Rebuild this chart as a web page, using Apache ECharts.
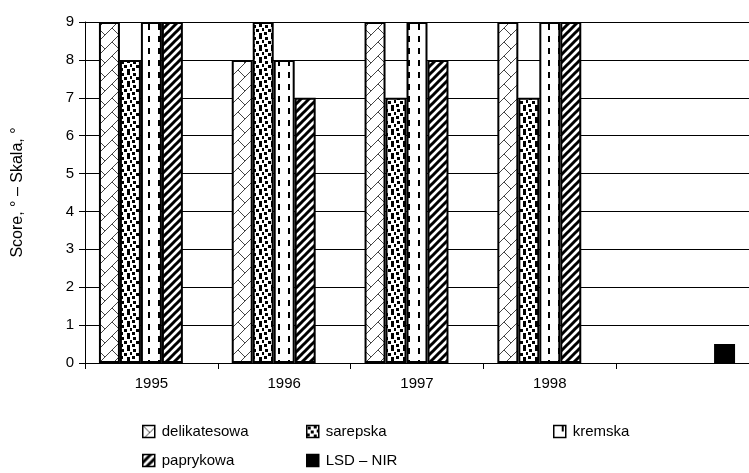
<!DOCTYPE html>
<html>
<head>
<meta charset="utf-8">
<script src="https://cdn.jsdelivr.net/npm/echarts@6/dist/echarts.min.js"></script>
<style>
  html, body { margin: 0; padding: 0; background: #fff; }
  #chart { width: 749px; height: 473px; }
</style>
</head>
<body>
<div id="chart"></div>
<script>
// Years of the trial; the empty last slot holds the LSD bar
const categories = ['1995', '1996', '1997', '1998', ''];
const delikatesowa = [9, 8, 9, 9, null];
const sarepska = [8, 9, 7, 7, null];
const kremska = [9, 8, 9, 9, null];
const paprykowa = [9, 7, 8, 9, null];
const lsdNir = [null, null, null, null, 0.5];
const yTicks = [0, 1, 2, 3, 4, 5, 6, 7, 8, 9];

const FONT = 'Liberation Sans, Arial, sans-serif';

// Small repeating tiles used as hatch fills
function tile(w, h, draw) {
  const c = document.createElement('canvas');
  c.width = w; c.height = h;
  const g = c.getContext('2d');
  g.fillStyle = '#fff';
  g.fillRect(0, 0, w, h);
  draw(g, w, h);
  return { image: c, repeat: 'repeat' };
}

// diagonal brick
const brickFill = tile(14, 14, (g) => {
  g.strokeStyle = '#444';
  g.lineWidth = 1;
  g.beginPath();
  g.moveTo(0, 14); g.lineTo(14, 0);
  g.moveTo(0, 0); g.lineTo(7, 7);
  g.stroke();
});

// large confetti
const confettiFill = tile(12, 12, (g) => {
  g.fillStyle = '#000';
  [[1, 1], [7, 0], [4, 5], [10, 4], [0, 8], [7, 9]].forEach(([x, y]) => g.fillRect(x, y, 3, 3));
});

// dashed vertical
const dashFill = tile(10, 12, (g) => {
  g.fillStyle = '#000';
  g.fillRect(8, 0, 2, 6);
});

// wide upward diagonal
const stripeFill = tile(8, 8, (g) => {
  g.strokeStyle = '#000';
  g.lineWidth = 3;
  g.beginPath();
  g.moveTo(-1, 9); g.lineTo(9, -1);
  g.moveTo(-5, 5); g.lineTo(5, -5);
  g.moveTo(3, 13); g.lineTo(13, 3);
  g.stroke();
});

function barSeries(name, data, fill) {
  return {
    name: name,
    type: 'bar',
    data: data,
    barGap: '0%',
    barCategoryGap: '21%',
    itemStyle: { color: fill, borderColor: '#000', borderWidth: 2 },
    emphasis: { disabled: true }
  };
}

function legendAt(name, left, top) {
  return {
    data: [name],
    left: left,
    top: top,
    icon: 'rect',
    itemWidth: 12,
    itemHeight: 12,
    itemGap: 0,
    padding: 0,
    selectedMode: false,
    itemStyle: { borderWidth: 1.5 },
    textStyle: { fontFamily: FONT, fontSize: 15, color: '#000', padding: [0, 0, 0, 2] }
  };
}

const chart = echarts.init(document.getElementById('chart'), null, { renderer: 'canvas' });
chart.setOption({
  animation: false,
  backgroundColor: '#fff',
  grid: { left: 85, right: 0, top: 22, bottom: 110, containLabel: false },
  xAxis: {
    type: 'category',
    data: categories,
    axisLine: { lineStyle: { color: '#000', width: 1 } },
    axisTick: { show: true, interval: 0, length: 6, lineStyle: { color: '#000' } },
    axisLabel: { interval: 0, margin: 13, fontFamily: FONT, fontSize: 15, color: '#000' }
  },
  yAxis: {
    type: 'value',
    min: yTicks[0],
    max: yTicks[yTicks.length - 1],
    interval: 1,
    name: 'Score, ° – Skala, °',
    nameLocation: 'middle',
    nameRotate: 90,
    nameGap: 59,
    nameTextStyle: { fontFamily: FONT, fontSize: 16, color: '#000' },
    axisLine: { show: true, lineStyle: { color: '#000', width: 1 } },
    axisTick: { show: true, length: 6, lineStyle: { color: '#000' } },
    axisLabel: { margin: 11, fontFamily: FONT, fontSize: 15, color: '#000' },
    splitLine: { show: true, lineStyle: { color: '#000', width: 1 } }
  },
  legend: [
    legendAt('delikatesowa', 142, 424),
    legendAt('sarepska', 306, 424),
    legendAt('kremska', 553, 424),
    legendAt('paprykowa', 142, 453),
    legendAt('LSD – NIR', 306, 453)
  ],
  series: [
    barSeries('delikatesowa', delikatesowa, brickFill),
    barSeries('sarepska', sarepska, confettiFill),
    barSeries('kremska', kremska, dashFill),
    barSeries('paprykowa', paprykowa, stripeFill),
    barSeries('LSD – NIR', lsdNir, '#000')
  ]
});
</script>
</body>
</html>
